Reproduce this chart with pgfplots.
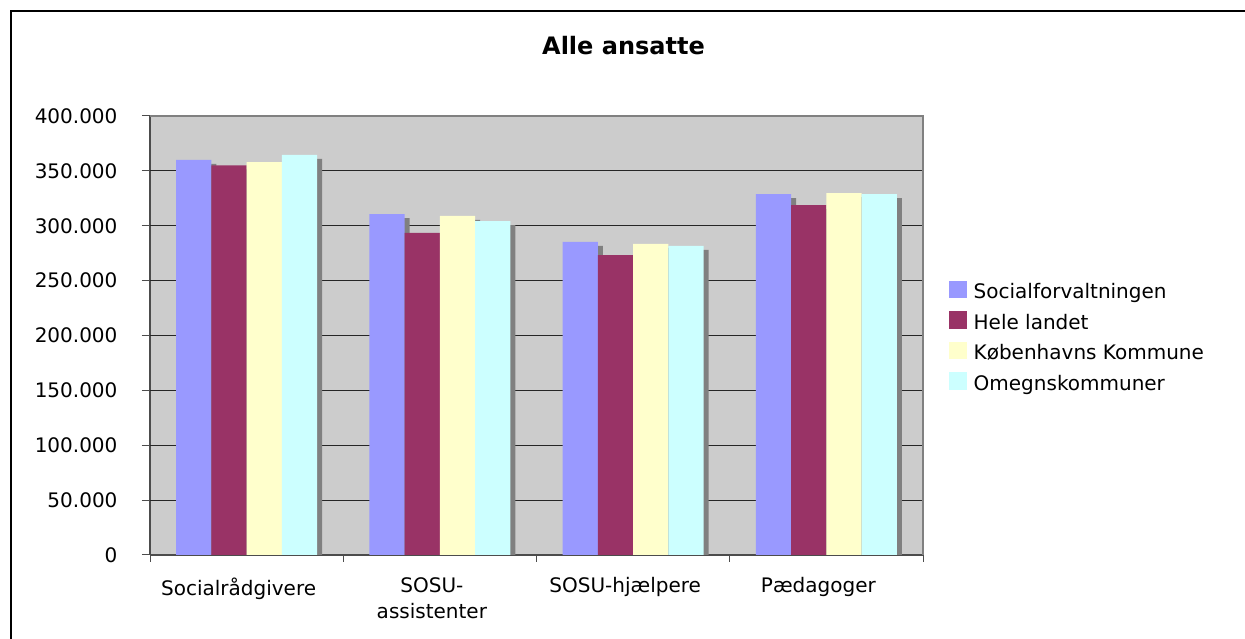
\documentclass[border=0pt]{standalone}
\usepackage{pgfplots}
\pgfplotsset{compat=1.18}
\usepackage{fontspec}
\setmainfont{DejaVu Sans}
\usetikzlibrary{shadows}
\definecolor{c1}{HTML}{9999FF}
\definecolor{c2}{HTML}{993366}
\definecolor{c3}{HTML}{FFFFCC}
\definecolor{c4}{HTML}{CCFFFF}
\definecolor{bg}{HTML}{CCCCCC}
\definecolor{sh}{HTML}{808080}
\newcommand{\legsq}[1]{\pgfsetfillcolor{#1}\pgfpathrectangle{\pgfpoint{0pt}{-6pt}}{\pgfpoint{17.5pt}{17.5pt}}\pgfusepath{fill}}
\begin{document}
\begin{tikzpicture}
\path[use as bounding box] (0,0) rectangle (1245pt,639pt);
\draw[line width=1.5pt] (11pt,0) -- (11pt,628pt) -- (1245pt,628pt);
\node[anchor=base, font=\fontsize{24}{28}\selectfont\bfseries, inner sep=0pt] at (623.5pt,584pt) {Alle ansatte};
\begin{axis}[
  at={(150pt,84pt)}, anchor=south west,
  scale only axis, width=773pt, height=439pt,
  xmin=-0.5, xmax=3.5, ymin=0, ymax=400000,
  ybar=0pt, bar width=35.2pt,
  axis background/.style={fill=bg},
  axis x line*=bottom, axis y line*=left,
  axis line style={draw=black!70, line width=1.2pt},
  tick align=outside,
  major tick length=8pt, minor tick length=7pt,
  xtick={0,1,2,3},
  minor xtick={-0.5,0.5,1.5,2.5,3.5},
  major x tick style={draw=none},
  minor x tick style={draw=black!70, line width=1pt},
  ytick={0,50000,100000,150000,200000,250000,300000,350000,400000},
  yticklabels={0,50.000,100.000,150.000,200.000,250.000,300.000,350.000,400.000},
  ytick style={draw=black!70, line width=1pt},
  extra y ticks={50000,100000,150000,200000,250000,300000,350000},
  extra y tick labels={},
  extra y tick style={grid=major, major grid style={draw=black!85, line width=1.2pt}},
  scaled y ticks=false,
  yticklabel style={font=\fontsize{20}{24}\selectfont, xshift=-21pt},
  xticklabels={Socialrådgivere, {SOSU-\\assistenter}, SOSU-hjælpere, Pædagoger},
  xticklabel style={font=\fontsize{20}{26}\selectfont, align=center, xshift=-8pt, yshift=-11pt},
  every axis plot/.append style={draw=none, drop shadow={shadow xshift=5pt, shadow yshift=-4pt, fill=sh, opacity=1}},
  legend style={draw=none, fill=none, at={(axis description cs:1.0336,0.6257)}, anchor=north west,
    font=\fontsize{20}{24}\selectfont, inner sep=0pt, row sep=8.8pt, column sep=5pt,
    cells={anchor=west, inner sep=0pt, text height=15pt, text depth=5pt}},
  legend cell align=left,
  after end axis/.code={\draw[sh, line width=1.5pt] (rel axis cs:0,1) -- (rel axis cs:1,1) -- (rel axis cs:1,0);},
]
\addplot[fill=c1, legend image code/.code={\legsq{c1}}]
  coordinates {(0,360000) (1,310700) (2,285200) (3,328900)};
\addplot[fill=c2, legend image code/.code={\legsq{c2}}]
  coordinates {(0,355000) (1,293400) (2,273300) (3,318900)};
\addplot[fill=c3, legend image code/.code={\legsq{c3}}]
  coordinates {(0,358000) (1,308900) (2,283400) (3,329800)};
\addplot[fill=c4, legend image code/.code={\legsq{c4}}]
  coordinates {(0,364500) (1,304300) (2,281600) (3,328900)};
\legend{Socialforvaltningen, Hele landet, Københavns Kommune, Omegnskommuner}
\end{axis}
\end{tikzpicture}
\end{document}
